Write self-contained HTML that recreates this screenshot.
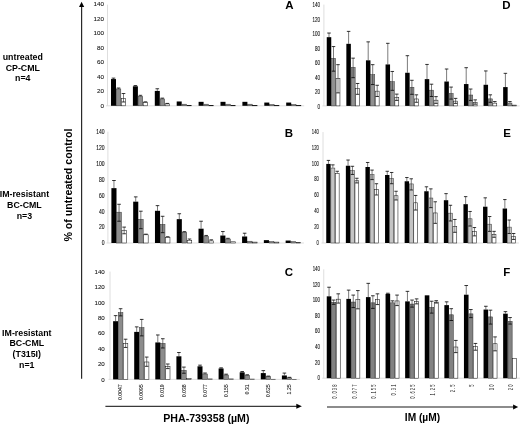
<!DOCTYPE html>
<html lang="en"><head><meta charset="utf-8"><title>Figure</title>
<style>html,body{margin:0;padding:0;background:#fff;}body{width:520px;height:424px;overflow:hidden;}svg{display:block;filter:blur(0.35px);}text{font-family:'Liberation Sans', Arial, Helvetica, sans-serif;}</style>
</head><body>
<svg width="520" height="424" viewBox="0 0 520 424">
<rect width="520" height="424" fill="#fff"/>
<line x1="107.5" y1="4.65" x2="107.5" y2="105.80" stroke="#d6d6d6" stroke-width="0.8"/>
<line x1="106.0" y1="105.80" x2="304.20" y2="105.80" stroke="#d6d6d6" stroke-width="0.8"/>
<text transform="translate(104,107.60) scale(1.03,1)" text-anchor="end" font-size="6.1" fill="#111" stroke="#111" stroke-width="0.08">0</text>
<text transform="translate(104,93.15) scale(1.03,1)" text-anchor="end" font-size="6.1" fill="#111" stroke="#111" stroke-width="0.08">20</text>
<text transform="translate(104,78.70) scale(1.03,1)" text-anchor="end" font-size="6.1" fill="#111" stroke="#111" stroke-width="0.08">40</text>
<text transform="translate(104,64.25) scale(1.03,1)" text-anchor="end" font-size="6.1" fill="#111" stroke="#111" stroke-width="0.08">60</text>
<text transform="translate(104,49.80) scale(1.03,1)" text-anchor="end" font-size="6.1" fill="#111" stroke="#111" stroke-width="0.08">80</text>
<text transform="translate(104,35.35) scale(1.03,1)" text-anchor="end" font-size="6.1" fill="#111" stroke="#111" stroke-width="0.08">100</text>
<text transform="translate(104,20.90) scale(1.03,1)" text-anchor="end" font-size="6.1" fill="#111" stroke="#111" stroke-width="0.08">120</text>
<text transform="translate(104,6.45) scale(1.03,1)" text-anchor="end" font-size="6.1" fill="#111" stroke="#111" stroke-width="0.08">140</text>
<rect x="111.00" y="79.07" width="5.00" height="26.73" fill="#000"/>
<path d="M113.50 78.13V79.07" stroke="#222" stroke-width="0.6" fill="none"/>
<path d="M111.70 78.13H115.30" stroke="#000" stroke-width="0.8" fill="none"/>
<rect x="116.20" y="88.95" width="4.60" height="16.85" fill="#8c8c8c" stroke="#333" stroke-width="0.5"/>
<path d="M118.50 88.03V88.75" stroke="#222" stroke-width="0.6" fill="none"/>
<path d="M116.70 88.03H120.30" stroke="#000" stroke-width="0.8" fill="none"/>
<rect x="121.30" y="98.30" width="4.40" height="7.50" fill="#fff" stroke="#1a1a1a" stroke-width="0.55"/>
<path d="M123.50 93.52V101.97" stroke="#222" stroke-width="0.6" fill="none"/>
<path d="M121.70 93.52H125.30M121.70 101.97H125.30" stroke="#000" stroke-width="0.8" fill="none"/>
<rect x="132.90" y="86.29" width="5.00" height="19.51" fill="#000"/>
<path d="M135.40 85.57V86.29" stroke="#222" stroke-width="0.6" fill="none"/>
<path d="M133.60 85.57H137.20" stroke="#000" stroke-width="0.8" fill="none"/>
<rect x="138.10" y="96.25" width="4.60" height="9.55" fill="#8c8c8c" stroke="#333" stroke-width="0.5"/>
<path d="M140.40 95.32V96.05" stroke="#222" stroke-width="0.6" fill="none"/>
<path d="M138.60 95.32H142.20" stroke="#000" stroke-width="0.8" fill="none"/>
<rect x="143.20" y="102.49" width="4.40" height="3.31" fill="#fff" stroke="#1a1a1a" stroke-width="0.55"/>
<path d="M145.40 101.83V102.19" stroke="#222" stroke-width="0.6" fill="none"/>
<path d="M143.60 101.83H147.20" stroke="#000" stroke-width="0.8" fill="none"/>
<rect x="154.80" y="90.92" width="5.00" height="14.88" fill="#000"/>
<path d="M157.30 88.75V90.92" stroke="#222" stroke-width="0.6" fill="none"/>
<path d="M155.50 88.75H159.10" stroke="#000" stroke-width="0.8" fill="none"/>
<rect x="160.00" y="98.92" width="4.60" height="6.88" fill="#8c8c8c" stroke="#333" stroke-width="0.5"/>
<path d="M162.30 98.14V98.72" stroke="#222" stroke-width="0.6" fill="none"/>
<path d="M160.50 98.14H164.10" stroke="#000" stroke-width="0.8" fill="none"/>
<rect x="165.10" y="103.93" width="4.40" height="1.87" fill="#fff" stroke="#1a1a1a" stroke-width="0.55"/>
<path d="M167.30 103.42V103.63" stroke="#222" stroke-width="0.6" fill="none"/>
<path d="M165.50 103.42H169.10" stroke="#000" stroke-width="0.8" fill="none"/>
<rect x="176.70" y="101.47" width="5.00" height="4.33" fill="#000"/>
<rect x="181.90" y="104.19" width="4.60" height="1.61" fill="#8c8c8c" stroke="#333" stroke-width="0.5"/>
<rect x="187.00" y="105.38" width="4.40" height="0.42" fill="#fff" stroke="#1a1a1a" stroke-width="0.55"/>
<rect x="198.60" y="101.83" width="5.00" height="3.97" fill="#000"/>
<rect x="203.80" y="104.19" width="4.60" height="1.61" fill="#8c8c8c" stroke="#333" stroke-width="0.5"/>
<rect x="208.90" y="105.38" width="4.40" height="0.42" fill="#fff" stroke="#1a1a1a" stroke-width="0.55"/>
<rect x="220.50" y="101.83" width="5.00" height="3.97" fill="#000"/>
<rect x="225.70" y="104.19" width="4.60" height="1.61" fill="#8c8c8c" stroke="#333" stroke-width="0.5"/>
<rect x="230.80" y="105.38" width="4.40" height="0.42" fill="#fff" stroke="#1a1a1a" stroke-width="0.55"/>
<rect x="242.40" y="101.83" width="5.00" height="3.97" fill="#000"/>
<rect x="247.60" y="104.19" width="4.60" height="1.61" fill="#8c8c8c" stroke="#333" stroke-width="0.5"/>
<rect x="252.70" y="105.38" width="4.40" height="0.42" fill="#fff" stroke="#1a1a1a" stroke-width="0.55"/>
<rect x="264.30" y="102.55" width="5.00" height="3.25" fill="#000"/>
<rect x="269.50" y="104.56" width="4.60" height="1.25" fill="#8c8c8c" stroke="#333" stroke-width="0.5"/>
<rect x="274.60" y="105.52" width="4.40" height="0.28" fill="#fff" stroke="#1a1a1a" stroke-width="0.55"/>
<rect x="286.20" y="102.55" width="5.00" height="3.25" fill="#000"/>
<rect x="291.40" y="104.56" width="4.60" height="1.25" fill="#8c8c8c" stroke="#333" stroke-width="0.5"/>
<rect x="296.50" y="105.52" width="4.40" height="0.28" fill="#fff" stroke="#1a1a1a" stroke-width="0.55"/>
<line x1="107.9" y1="131.70" x2="107.9" y2="243.00" stroke="#d6d6d6" stroke-width="0.8"/>
<line x1="106.4" y1="243.00" x2="303.94" y2="243.00" stroke="#d6d6d6" stroke-width="0.8"/>
<text transform="translate(104.5,245.38) scale(0.76,1)" text-anchor="end" font-size="6.6" fill="#111" stroke="#111" stroke-width="0.12">0</text>
<text transform="translate(104.5,229.48) scale(0.76,1)" text-anchor="end" font-size="6.6" fill="#111" stroke="#111" stroke-width="0.12">20</text>
<text transform="translate(104.5,213.58) scale(0.76,1)" text-anchor="end" font-size="6.6" fill="#111" stroke="#111" stroke-width="0.12">40</text>
<text transform="translate(104.5,197.68) scale(0.76,1)" text-anchor="end" font-size="6.6" fill="#111" stroke="#111" stroke-width="0.12">60</text>
<text transform="translate(104.5,181.78) scale(0.76,1)" text-anchor="end" font-size="6.6" fill="#111" stroke="#111" stroke-width="0.12">80</text>
<text transform="translate(104.5,165.88) scale(0.76,1)" text-anchor="end" font-size="6.6" fill="#111" stroke="#111" stroke-width="0.12">100</text>
<text transform="translate(104.5,149.98) scale(0.76,1)" text-anchor="end" font-size="6.6" fill="#111" stroke="#111" stroke-width="0.12">120</text>
<text transform="translate(104.5,134.08) scale(0.76,1)" text-anchor="end" font-size="6.6" fill="#111" stroke="#111" stroke-width="0.12">140</text>
<rect x="111.40" y="188.14" width="5.10" height="54.86" fill="#000"/>
<path d="M113.95 180.51V188.14" stroke="#222" stroke-width="0.6" fill="none"/>
<path d="M112.15 180.51H115.75" stroke="#000" stroke-width="0.8" fill="none"/>
<rect x="116.70" y="212.19" width="4.70" height="30.81" fill="#8c8c8c" stroke="#333" stroke-width="0.5"/>
<path d="M119.05 204.28V221.22" stroke="#222" stroke-width="0.6" fill="none"/>
<path d="M117.25 204.28H120.85M117.25 221.22H120.85" stroke="#000" stroke-width="0.8" fill="none"/>
<rect x="121.90" y="230.26" width="4.50" height="12.74" fill="#fff" stroke="#1a1a1a" stroke-width="0.55"/>
<path d="M124.15 227.10V233.78" stroke="#222" stroke-width="0.6" fill="none"/>
<path d="M122.35 227.10H125.95M122.35 233.78H125.95" stroke="#000" stroke-width="0.8" fill="none"/>
<rect x="133.18" y="201.66" width="5.10" height="41.34" fill="#000"/>
<path d="M135.73 196.89V201.66" stroke="#222" stroke-width="0.6" fill="none"/>
<path d="M133.93 196.89H137.53" stroke="#000" stroke-width="0.8" fill="none"/>
<rect x="138.48" y="219.35" width="4.70" height="23.65" fill="#8c8c8c" stroke="#333" stroke-width="0.5"/>
<path d="M140.83 211.20V228.69" stroke="#222" stroke-width="0.6" fill="none"/>
<path d="M139.03 211.20H142.63M139.03 228.69H142.63" stroke="#000" stroke-width="0.8" fill="none"/>
<rect x="143.68" y="234.79" width="4.50" height="8.21" fill="#fff" stroke="#1a1a1a" stroke-width="0.55"/>
<path d="M145.93 234.18V234.49" stroke="#222" stroke-width="0.6" fill="none"/>
<path d="M144.13 234.18H147.73" stroke="#000" stroke-width="0.8" fill="none"/>
<rect x="154.96" y="210.80" width="5.10" height="32.20" fill="#000"/>
<path d="M157.51 205.63V210.80" stroke="#222" stroke-width="0.6" fill="none"/>
<path d="M155.71 205.63H159.31" stroke="#000" stroke-width="0.8" fill="none"/>
<rect x="160.26" y="224.44" width="4.70" height="18.56" fill="#8c8c8c" stroke="#333" stroke-width="0.5"/>
<path d="M162.61 216.29V232.66" stroke="#222" stroke-width="0.6" fill="none"/>
<path d="M160.81 216.29H164.41M160.81 232.66H164.41" stroke="#000" stroke-width="0.8" fill="none"/>
<rect x="165.46" y="237.34" width="4.50" height="5.66" fill="#fff" stroke="#1a1a1a" stroke-width="0.55"/>
<path d="M167.71 236.72V237.04" stroke="#222" stroke-width="0.6" fill="none"/>
<path d="M165.91 236.72H169.51" stroke="#000" stroke-width="0.8" fill="none"/>
<rect x="176.74" y="219.15" width="5.10" height="23.85" fill="#000"/>
<path d="M179.29 213.74V219.15" stroke="#222" stroke-width="0.6" fill="none"/>
<path d="M177.49 213.74H181.09" stroke="#000" stroke-width="0.8" fill="none"/>
<rect x="182.04" y="232.23" width="4.70" height="10.77" fill="#8c8c8c" stroke="#333" stroke-width="0.5"/>
<path d="M184.39 231.63V232.03" stroke="#222" stroke-width="0.6" fill="none"/>
<path d="M182.59 231.63H186.19" stroke="#000" stroke-width="0.8" fill="none"/>
<rect x="187.24" y="240.28" width="4.50" height="2.72" fill="#fff" stroke="#1a1a1a" stroke-width="0.55"/>
<path d="M189.49 239.03V239.98" stroke="#222" stroke-width="0.6" fill="none"/>
<path d="M187.69 239.03H191.29" stroke="#000" stroke-width="0.8" fill="none"/>
<rect x="198.52" y="228.69" width="5.10" height="14.31" fill="#000"/>
<path d="M201.07 221.22V228.69" stroke="#222" stroke-width="0.6" fill="none"/>
<path d="M199.27 221.22H202.87" stroke="#000" stroke-width="0.8" fill="none"/>
<rect x="203.82" y="236.44" width="4.70" height="6.56" fill="#8c8c8c" stroke="#333" stroke-width="0.5"/>
<path d="M206.17 235.45V236.24" stroke="#222" stroke-width="0.6" fill="none"/>
<path d="M204.37 235.45H207.97" stroke="#000" stroke-width="0.8" fill="none"/>
<rect x="209.02" y="240.92" width="4.50" height="2.09" fill="#fff" stroke="#1a1a1a" stroke-width="0.55"/>
<path d="M211.27 239.82V240.62" stroke="#222" stroke-width="0.6" fill="none"/>
<path d="M209.47 239.82H213.07" stroke="#000" stroke-width="0.8" fill="none"/>
<rect x="220.30" y="235.53" width="5.10" height="7.47" fill="#000"/>
<path d="M222.85 231.55V235.53" stroke="#222" stroke-width="0.6" fill="none"/>
<path d="M221.05 231.55H224.65" stroke="#000" stroke-width="0.8" fill="none"/>
<rect x="225.60" y="238.99" width="4.70" height="4.01" fill="#8c8c8c" stroke="#333" stroke-width="0.5"/>
<path d="M227.95 238.31V238.79" stroke="#222" stroke-width="0.6" fill="none"/>
<path d="M226.15 238.31H229.75" stroke="#000" stroke-width="0.8" fill="none"/>
<rect x="230.80" y="241.79" width="4.50" height="1.21" fill="#fff" stroke="#1a1a1a" stroke-width="0.55"/>
<rect x="242.08" y="236.48" width="5.10" height="6.52" fill="#000"/>
<path d="M244.63 233.22V236.48" stroke="#222" stroke-width="0.6" fill="none"/>
<path d="M242.83 233.22H246.43" stroke="#000" stroke-width="0.8" fill="none"/>
<rect x="247.38" y="241.21" width="4.70" height="1.79" fill="#8c8c8c" stroke="#333" stroke-width="0.5"/>
<rect x="252.58" y="242.11" width="4.50" height="0.89" fill="#fff" stroke="#1a1a1a" stroke-width="0.55"/>
<rect x="263.86" y="240.14" width="5.10" height="2.86" fill="#000"/>
<rect x="269.16" y="241.61" width="4.70" height="1.39" fill="#8c8c8c" stroke="#333" stroke-width="0.5"/>
<rect x="274.36" y="242.11" width="4.50" height="0.89" fill="#fff" stroke="#1a1a1a" stroke-width="0.55"/>
<rect x="285.64" y="240.54" width="5.10" height="2.46" fill="#000"/>
<rect x="290.94" y="241.61" width="4.70" height="1.39" fill="#8c8c8c" stroke="#333" stroke-width="0.5"/>
<rect x="296.14" y="242.51" width="4.50" height="0.50" fill="#fff" stroke="#1a1a1a" stroke-width="0.55"/>
<line x1="110" y1="271.60" x2="110" y2="379.40" stroke="#d6d6d6" stroke-width="0.8"/>
<line x1="108.5" y1="379.40" x2="299.90" y2="379.40" stroke="#d6d6d6" stroke-width="0.8"/>
<text transform="translate(104.8,381.52) scale(1.05,1)" text-anchor="end" font-size="5.9" fill="#111" stroke="#111" stroke-width="0.08">0</text>
<text transform="translate(104.8,366.12) scale(1.05,1)" text-anchor="end" font-size="5.9" fill="#111" stroke="#111" stroke-width="0.08">20</text>
<text transform="translate(104.8,350.72) scale(1.05,1)" text-anchor="end" font-size="5.9" fill="#111" stroke="#111" stroke-width="0.08">40</text>
<text transform="translate(104.8,335.32) scale(1.05,1)" text-anchor="end" font-size="5.9" fill="#111" stroke="#111" stroke-width="0.08">60</text>
<text transform="translate(104.8,319.92) scale(1.05,1)" text-anchor="end" font-size="5.9" fill="#111" stroke="#111" stroke-width="0.08">80</text>
<text transform="translate(104.8,304.52) scale(1.05,1)" text-anchor="end" font-size="5.9" fill="#111" stroke="#111" stroke-width="0.08">100</text>
<text transform="translate(104.8,289.12) scale(1.05,1)" text-anchor="end" font-size="5.9" fill="#111" stroke="#111" stroke-width="0.08">120</text>
<text transform="translate(104.8,273.72) scale(1.05,1)" text-anchor="end" font-size="5.9" fill="#111" stroke="#111" stroke-width="0.08">140</text>
<rect x="113.10" y="321.19" width="5.00" height="58.21" fill="#000"/>
<path d="M115.60 315.64V321.19" stroke="#222" stroke-width="0.6" fill="none"/>
<path d="M113.80 315.64H117.40" stroke="#000" stroke-width="0.8" fill="none"/>
<rect x="118.30" y="312.61" width="4.60" height="66.79" fill="#8c8c8c" stroke="#333" stroke-width="0.5"/>
<path d="M120.60 308.71V315.88" stroke="#222" stroke-width="0.6" fill="none"/>
<path d="M118.80 308.71H122.40M118.80 315.88H122.40" stroke="#000" stroke-width="0.8" fill="none"/>
<rect x="123.40" y="343.51" width="4.40" height="35.89" fill="#fff" stroke="#1a1a1a" stroke-width="0.55"/>
<path d="M125.60 339.21V347.44" stroke="#222" stroke-width="0.6" fill="none"/>
<path d="M123.80 339.21H127.40M123.80 347.44H127.40" stroke="#000" stroke-width="0.8" fill="none"/>
<rect x="134.20" y="331.89" width="5.00" height="47.51" fill="#000"/>
<path d="M136.70 326.89V331.89" stroke="#222" stroke-width="0.6" fill="none"/>
<path d="M134.90 326.89H138.50" stroke="#000" stroke-width="0.8" fill="none"/>
<rect x="139.40" y="327.62" width="4.60" height="51.77" fill="#8c8c8c" stroke="#333" stroke-width="0.5"/>
<path d="M141.70 319.42V335.89" stroke="#222" stroke-width="0.6" fill="none"/>
<path d="M139.90 319.42H143.50M139.90 335.89H143.50" stroke="#000" stroke-width="0.8" fill="none"/>
<rect x="144.50" y="361.99" width="4.40" height="17.41" fill="#fff" stroke="#1a1a1a" stroke-width="0.55"/>
<path d="M146.70 357.07V366.31" stroke="#222" stroke-width="0.6" fill="none"/>
<path d="M144.90 357.07H148.50M144.90 366.31H148.50" stroke="#000" stroke-width="0.8" fill="none"/>
<rect x="155.30" y="342.44" width="5.00" height="36.96" fill="#000"/>
<path d="M157.80 334.97V342.44" stroke="#222" stroke-width="0.6" fill="none"/>
<path d="M156.00 334.97H159.60" stroke="#000" stroke-width="0.8" fill="none"/>
<rect x="160.50" y="343.41" width="4.60" height="35.99" fill="#8c8c8c" stroke="#333" stroke-width="0.5"/>
<path d="M162.80 338.74V347.98" stroke="#222" stroke-width="0.6" fill="none"/>
<path d="M161.00 338.74H164.60M161.00 347.98H164.60" stroke="#000" stroke-width="0.8" fill="none"/>
<rect x="165.60" y="366.61" width="4.40" height="12.79" fill="#fff" stroke="#1a1a1a" stroke-width="0.55"/>
<path d="M167.80 364.00V368.62" stroke="#222" stroke-width="0.6" fill="none"/>
<path d="M166.00 364.00H169.60M166.00 368.62H169.60" stroke="#000" stroke-width="0.8" fill="none"/>
<rect x="176.40" y="356.30" width="5.00" height="23.10" fill="#000"/>
<path d="M178.90 352.53V356.30" stroke="#222" stroke-width="0.6" fill="none"/>
<path d="M177.10 352.53H180.70" stroke="#000" stroke-width="0.8" fill="none"/>
<rect x="181.60" y="370.36" width="4.60" height="9.04" fill="#8c8c8c" stroke="#333" stroke-width="0.5"/>
<path d="M183.90 367.08V373.24" stroke="#222" stroke-width="0.6" fill="none"/>
<path d="M182.10 367.08H185.70M182.10 373.24H185.70" stroke="#000" stroke-width="0.8" fill="none"/>
<rect x="186.70" y="378.55" width="4.40" height="0.85" fill="#fff" stroke="#1a1a1a" stroke-width="0.55"/>
<rect x="197.50" y="366.31" width="5.00" height="13.09" fill="#000"/>
<path d="M200.00 365.15V366.31" stroke="#222" stroke-width="0.6" fill="none"/>
<path d="M198.20 365.15H201.80" stroke="#000" stroke-width="0.8" fill="none"/>
<rect x="202.70" y="373.98" width="4.60" height="5.42" fill="#8c8c8c" stroke="#333" stroke-width="0.5"/>
<path d="M205.00 373.01V373.78" stroke="#222" stroke-width="0.6" fill="none"/>
<path d="M203.20 373.01H206.80" stroke="#000" stroke-width="0.8" fill="none"/>
<rect x="207.80" y="378.93" width="4.40" height="0.47" fill="#fff" stroke="#1a1a1a" stroke-width="0.55"/>
<rect x="218.60" y="368.47" width="5.00" height="10.93" fill="#000"/>
<path d="M221.10 367.85V368.47" stroke="#222" stroke-width="0.6" fill="none"/>
<path d="M219.30 367.85H222.90" stroke="#000" stroke-width="0.8" fill="none"/>
<rect x="223.80" y="374.98" width="4.60" height="4.42" fill="#8c8c8c" stroke="#333" stroke-width="0.5"/>
<path d="M226.10 374.16V374.78" stroke="#222" stroke-width="0.6" fill="none"/>
<path d="M224.30 374.16H227.90" stroke="#000" stroke-width="0.8" fill="none"/>
<rect x="228.90" y="378.93" width="4.40" height="0.47" fill="#fff" stroke="#1a1a1a" stroke-width="0.55"/>
<rect x="239.70" y="372.32" width="5.00" height="7.08" fill="#000"/>
<path d="M242.20 371.55V372.32" stroke="#222" stroke-width="0.6" fill="none"/>
<path d="M240.40 371.55H244.00" stroke="#000" stroke-width="0.8" fill="none"/>
<rect x="244.90" y="375.44" width="4.60" height="3.96" fill="#8c8c8c" stroke="#333" stroke-width="0.5"/>
<path d="M247.20 374.78V375.24" stroke="#222" stroke-width="0.6" fill="none"/>
<path d="M245.40 374.78H249.00" stroke="#000" stroke-width="0.8" fill="none"/>
<rect x="250.00" y="379.08" width="4.40" height="0.32" fill="#fff" stroke="#1a1a1a" stroke-width="0.55"/>
<rect x="260.80" y="373.09" width="5.00" height="6.31" fill="#000"/>
<path d="M263.30 370.62V373.09" stroke="#222" stroke-width="0.6" fill="none"/>
<path d="M261.50 370.62H265.10" stroke="#000" stroke-width="0.8" fill="none"/>
<rect x="266.00" y="376.67" width="4.60" height="2.73" fill="#8c8c8c" stroke="#333" stroke-width="0.5"/>
<path d="M268.30 376.09V376.47" stroke="#222" stroke-width="0.6" fill="none"/>
<path d="M266.50 376.09H270.10" stroke="#000" stroke-width="0.8" fill="none"/>
<rect x="271.10" y="379.24" width="4.40" height="0.16" fill="#fff" stroke="#1a1a1a" stroke-width="0.55"/>
<rect x="281.90" y="375.47" width="5.00" height="3.93" fill="#000"/>
<path d="M284.40 373.09V375.47" stroke="#222" stroke-width="0.6" fill="none"/>
<path d="M282.60 373.09H286.20" stroke="#000" stroke-width="0.8" fill="none"/>
<rect x="287.10" y="377.83" width="4.60" height="1.57" fill="#8c8c8c" stroke="#333" stroke-width="0.5"/>
<path d="M289.40 377.32V377.63" stroke="#222" stroke-width="0.6" fill="none"/>
<path d="M287.60 377.32H291.20" stroke="#000" stroke-width="0.8" fill="none"/>
<rect x="292.20" y="379.31" width="4.40" height="0.10" fill="#fff" stroke="#1a1a1a" stroke-width="0.55"/>
<line x1="323.9" y1="4.61" x2="323.9" y2="105.90" stroke="#d6d6d6" stroke-width="0.8"/>
<line x1="322.4" y1="105.90" x2="519.65" y2="105.90" stroke="#d6d6d6" stroke-width="0.8"/>
<text transform="translate(320.1,108.56) scale(0.61,1)" text-anchor="end" font-size="7.4" fill="#111" stroke="#111" stroke-width="0.12">0</text>
<text transform="translate(320.1,94.09) scale(0.61,1)" text-anchor="end" font-size="7.4" fill="#111" stroke="#111" stroke-width="0.12">20</text>
<text transform="translate(320.1,79.62) scale(0.61,1)" text-anchor="end" font-size="7.4" fill="#111" stroke="#111" stroke-width="0.12">40</text>
<text transform="translate(320.1,65.15) scale(0.61,1)" text-anchor="end" font-size="7.4" fill="#111" stroke="#111" stroke-width="0.12">60</text>
<text transform="translate(320.1,50.68) scale(0.61,1)" text-anchor="end" font-size="7.4" fill="#111" stroke="#111" stroke-width="0.12">80</text>
<text transform="translate(320.1,36.21) scale(0.61,1)" text-anchor="end" font-size="7.4" fill="#111" stroke="#111" stroke-width="0.12">100</text>
<text transform="translate(320.1,21.74) scale(0.61,1)" text-anchor="end" font-size="7.4" fill="#111" stroke="#111" stroke-width="0.12">120</text>
<text transform="translate(320.1,7.27) scale(0.61,1)" text-anchor="end" font-size="7.4" fill="#111" stroke="#111" stroke-width="0.12">140</text>
<rect x="326.75" y="37.17" width="4.50" height="68.73" fill="#000"/>
<path d="M329.00 33.04V37.17" stroke="#222" stroke-width="0.6" fill="none"/>
<path d="M327.25 33.04H330.75" stroke="#000" stroke-width="0.8" fill="none"/>
<rect x="331.45" y="58.35" width="4.10" height="47.55" fill="#919191" stroke="#333" stroke-width="0.5"/>
<path d="M333.50 46.57V71.17" stroke="#222" stroke-width="0.6" fill="none"/>
<path d="M331.75 46.57H335.25M331.75 71.17H335.25" stroke="#000" stroke-width="0.8" fill="none"/>
<rect x="336.05" y="78.71" width="3.90" height="27.19" fill="#fff" stroke="#1a1a1a" stroke-width="0.55"/>
<path d="M338.00 64.66V92.88" stroke="#222" stroke-width="0.6" fill="none"/>
<path d="M336.25 64.66H339.75M336.25 92.88H339.75" stroke="#000" stroke-width="0.8" fill="none"/>
<rect x="346.35" y="43.82" width="4.50" height="62.08" fill="#000"/>
<path d="M348.60 31.38V43.82" stroke="#222" stroke-width="0.6" fill="none"/>
<path d="M346.85 31.38H350.35" stroke="#000" stroke-width="0.8" fill="none"/>
<rect x="351.05" y="67.39" width="4.10" height="38.51" fill="#919191" stroke="#333" stroke-width="0.5"/>
<path d="M353.10 58.15V77.68" stroke="#222" stroke-width="0.6" fill="none"/>
<path d="M351.35 58.15H354.85M351.35 77.68H354.85" stroke="#000" stroke-width="0.8" fill="none"/>
<rect x="355.65" y="88.62" width="3.90" height="17.28" fill="#fff" stroke="#1a1a1a" stroke-width="0.55"/>
<path d="M357.60 83.47V94.32" stroke="#222" stroke-width="0.6" fill="none"/>
<path d="M355.85 83.47H359.35M355.85 94.32H359.35" stroke="#000" stroke-width="0.8" fill="none"/>
<rect x="365.95" y="60.32" width="4.50" height="45.58" fill="#000"/>
<path d="M368.20 41.87V60.32" stroke="#222" stroke-width="0.6" fill="none"/>
<path d="M366.45 41.87H369.95" stroke="#000" stroke-width="0.8" fill="none"/>
<rect x="370.65" y="74.70" width="4.10" height="31.20" fill="#919191" stroke="#333" stroke-width="0.5"/>
<path d="M372.70 64.66V84.56" stroke="#222" stroke-width="0.6" fill="none"/>
<path d="M370.95 64.66H374.45M370.95 84.56H374.45" stroke="#000" stroke-width="0.8" fill="none"/>
<rect x="375.25" y="91.15" width="3.90" height="14.75" fill="#fff" stroke="#1a1a1a" stroke-width="0.55"/>
<path d="M377.20 85.28V96.49" stroke="#222" stroke-width="0.6" fill="none"/>
<path d="M375.45 85.28H378.95M375.45 96.49H378.95" stroke="#000" stroke-width="0.8" fill="none"/>
<rect x="385.55" y="64.44" width="4.50" height="41.46" fill="#000"/>
<path d="M387.80 43.32V64.44" stroke="#222" stroke-width="0.6" fill="none"/>
<path d="M386.05 43.32H389.55" stroke="#000" stroke-width="0.8" fill="none"/>
<rect x="390.25" y="81.72" width="4.10" height="24.18" fill="#919191" stroke="#333" stroke-width="0.5"/>
<path d="M392.30 71.46V90.34" stroke="#222" stroke-width="0.6" fill="none"/>
<path d="M390.55 71.46H394.05M390.55 90.34H394.05" stroke="#000" stroke-width="0.8" fill="none"/>
<rect x="394.85" y="97.66" width="3.90" height="8.24" fill="#fff" stroke="#1a1a1a" stroke-width="0.55"/>
<path d="M396.80 94.11V100.40" stroke="#222" stroke-width="0.6" fill="none"/>
<path d="M395.05 94.11H398.55M395.05 100.40H398.55" stroke="#000" stroke-width="0.8" fill="none"/>
<rect x="405.15" y="72.76" width="4.50" height="33.14" fill="#000"/>
<path d="M407.40 55.69V72.76" stroke="#222" stroke-width="0.6" fill="none"/>
<path d="M405.65 55.69H409.15" stroke="#000" stroke-width="0.8" fill="none"/>
<rect x="409.85" y="87.29" width="4.10" height="18.61" fill="#919191" stroke="#333" stroke-width="0.5"/>
<path d="M411.90 80.29V94.32" stroke="#222" stroke-width="0.6" fill="none"/>
<path d="M410.15 80.29H413.65M410.15 94.32H413.65" stroke="#000" stroke-width="0.8" fill="none"/>
<rect x="414.45" y="98.97" width="3.90" height="6.94" fill="#fff" stroke="#1a1a1a" stroke-width="0.55"/>
<path d="M416.40 94.83V102.28" stroke="#222" stroke-width="0.6" fill="none"/>
<path d="M414.65 94.83H418.15M414.65 102.28H418.15" stroke="#000" stroke-width="0.8" fill="none"/>
<rect x="424.75" y="79.13" width="4.50" height="26.77" fill="#000"/>
<path d="M427.00 64.44V79.13" stroke="#222" stroke-width="0.6" fill="none"/>
<path d="M425.25 64.44H428.75" stroke="#000" stroke-width="0.8" fill="none"/>
<rect x="429.45" y="90.18" width="4.10" height="15.72" fill="#919191" stroke="#333" stroke-width="0.5"/>
<path d="M431.50 84.20V96.49" stroke="#222" stroke-width="0.6" fill="none"/>
<path d="M429.75 84.20H433.25M429.75 96.49H433.25" stroke="#000" stroke-width="0.8" fill="none"/>
<rect x="434.05" y="100.19" width="3.90" height="5.71" fill="#fff" stroke="#1a1a1a" stroke-width="0.55"/>
<path d="M436.00 96.64V103.37" stroke="#222" stroke-width="0.6" fill="none"/>
<path d="M434.25 96.64H437.75M434.25 103.37H437.75" stroke="#000" stroke-width="0.8" fill="none"/>
<rect x="444.35" y="81.52" width="4.50" height="24.38" fill="#000"/>
<path d="M446.60 69.00V81.52" stroke="#222" stroke-width="0.6" fill="none"/>
<path d="M444.85 69.00H448.35" stroke="#000" stroke-width="0.8" fill="none"/>
<rect x="449.05" y="93.51" width="4.10" height="12.39" fill="#919191" stroke="#333" stroke-width="0.5"/>
<path d="M451.10 87.09V99.10" stroke="#222" stroke-width="0.6" fill="none"/>
<path d="M449.35 87.09H452.85M449.35 99.10H452.85" stroke="#000" stroke-width="0.8" fill="none"/>
<rect x="453.65" y="101.14" width="3.90" height="4.76" fill="#fff" stroke="#1a1a1a" stroke-width="0.55"/>
<path d="M455.60 98.38V103.37" stroke="#222" stroke-width="0.6" fill="none"/>
<path d="M453.85 98.38H457.35M453.85 103.37H457.35" stroke="#000" stroke-width="0.8" fill="none"/>
<rect x="463.95" y="84.05" width="4.50" height="21.85" fill="#000"/>
<path d="M466.20 67.70V84.05" stroke="#222" stroke-width="0.6" fill="none"/>
<path d="M464.45 67.70H467.95" stroke="#000" stroke-width="0.8" fill="none"/>
<rect x="468.65" y="95.03" width="4.10" height="10.87" fill="#919191" stroke="#333" stroke-width="0.5"/>
<path d="M470.70 89.04V100.40" stroke="#222" stroke-width="0.6" fill="none"/>
<path d="M468.95 89.04H472.45M468.95 100.40H472.45" stroke="#000" stroke-width="0.8" fill="none"/>
<rect x="473.25" y="102.65" width="3.90" height="3.25" fill="#fff" stroke="#1a1a1a" stroke-width="0.55"/>
<path d="M475.20 99.89V104.16" stroke="#222" stroke-width="0.6" fill="none"/>
<path d="M473.45 99.89H476.95M473.45 104.16H476.95" stroke="#000" stroke-width="0.8" fill="none"/>
<rect x="483.55" y="84.77" width="4.50" height="21.13" fill="#000"/>
<path d="M485.80 70.95V84.77" stroke="#222" stroke-width="0.6" fill="none"/>
<path d="M484.05 70.95H487.55" stroke="#000" stroke-width="0.8" fill="none"/>
<rect x="488.25" y="98.87" width="4.10" height="7.04" fill="#919191" stroke="#333" stroke-width="0.5"/>
<path d="M490.30 94.83V102.28" stroke="#222" stroke-width="0.6" fill="none"/>
<path d="M488.55 94.83H492.05M488.55 102.28H492.05" stroke="#000" stroke-width="0.8" fill="none"/>
<rect x="492.85" y="103.16" width="3.90" height="2.74" fill="#fff" stroke="#1a1a1a" stroke-width="0.55"/>
<path d="M494.80 101.56V102.86" stroke="#222" stroke-width="0.6" fill="none"/>
<path d="M493.05 101.56H496.55" stroke="#000" stroke-width="0.8" fill="none"/>
<rect x="503.15" y="87.09" width="4.50" height="18.81" fill="#000"/>
<path d="M505.40 73.34V87.09" stroke="#222" stroke-width="0.6" fill="none"/>
<path d="M503.65 73.34H507.15" stroke="#000" stroke-width="0.8" fill="none"/>
<rect x="507.85" y="103.06" width="4.10" height="2.84" fill="#919191" stroke="#333" stroke-width="0.5"/>
<path d="M509.90 101.56V102.86" stroke="#222" stroke-width="0.6" fill="none"/>
<path d="M508.15 101.56H511.65" stroke="#000" stroke-width="0.8" fill="none"/>
<rect x="512.45" y="105.11" width="3.90" height="0.79" fill="#fff" stroke="#1a1a1a" stroke-width="0.55"/>
<line x1="323" y1="132.05" x2="323" y2="243.00" stroke="#d6d6d6" stroke-width="0.8"/>
<line x1="321.5" y1="243.00" x2="518.85" y2="243.00" stroke="#d6d6d6" stroke-width="0.8"/>
<text transform="translate(318.8,244.87) scale(0.54,1)" text-anchor="end" font-size="7.7" fill="#111" stroke="#111" stroke-width="0.12">0</text>
<text transform="translate(318.8,229.02) scale(0.54,1)" text-anchor="end" font-size="7.7" fill="#111" stroke="#111" stroke-width="0.12">20</text>
<text transform="translate(318.8,213.17) scale(0.54,1)" text-anchor="end" font-size="7.7" fill="#111" stroke="#111" stroke-width="0.12">40</text>
<text transform="translate(318.8,197.32) scale(0.54,1)" text-anchor="end" font-size="7.7" fill="#111" stroke="#111" stroke-width="0.12">60</text>
<text transform="translate(318.8,181.47) scale(0.54,1)" text-anchor="end" font-size="7.7" fill="#111" stroke="#111" stroke-width="0.12">80</text>
<text transform="translate(318.8,165.62) scale(0.54,1)" text-anchor="end" font-size="7.7" fill="#111" stroke="#111" stroke-width="0.12">100</text>
<text transform="translate(318.8,149.77) scale(0.54,1)" text-anchor="end" font-size="7.7" fill="#111" stroke="#111" stroke-width="0.12">120</text>
<text transform="translate(318.8,133.92) scale(0.54,1)" text-anchor="end" font-size="7.7" fill="#111" stroke="#111" stroke-width="0.12">140</text>
<rect x="326.25" y="163.91" width="4.40" height="79.09" fill="#000"/>
<path d="M328.45 160.42V163.91" stroke="#222" stroke-width="0.6" fill="none"/>
<path d="M326.75 160.42H330.15" stroke="#000" stroke-width="0.8" fill="none"/>
<rect x="330.85" y="168.07" width="4.00" height="74.93" fill="#c4c4c4" stroke="#333" stroke-width="0.5"/>
<path d="M332.85 164.86V167.87" stroke="#222" stroke-width="0.6" fill="none"/>
<path d="M331.15 164.86H334.55" stroke="#000" stroke-width="0.8" fill="none"/>
<rect x="335.35" y="173.56" width="3.80" height="69.44" fill="#fff" stroke="#1a1a1a" stroke-width="0.55"/>
<path d="M337.25 171.28V173.26" stroke="#222" stroke-width="0.6" fill="none"/>
<path d="M335.55 171.28H338.95" stroke="#000" stroke-width="0.8" fill="none"/>
<rect x="345.85" y="165.73" width="4.40" height="77.27" fill="#000"/>
<path d="M348.05 160.03V165.73" stroke="#222" stroke-width="0.6" fill="none"/>
<path d="M346.35 160.03H349.75" stroke="#000" stroke-width="0.8" fill="none"/>
<rect x="350.45" y="170.69" width="4.00" height="72.31" fill="#c4c4c4" stroke="#333" stroke-width="0.5"/>
<path d="M352.45 166.29V174.45" stroke="#222" stroke-width="0.6" fill="none"/>
<path d="M350.75 166.29H354.15M350.75 174.45H354.15" stroke="#000" stroke-width="0.8" fill="none"/>
<rect x="354.95" y="180.77" width="3.80" height="62.23" fill="#fff" stroke="#1a1a1a" stroke-width="0.55"/>
<path d="M356.85 178.25V182.93" stroke="#222" stroke-width="0.6" fill="none"/>
<path d="M355.15 178.25H358.55M355.15 182.93H358.55" stroke="#000" stroke-width="0.8" fill="none"/>
<rect x="365.45" y="167.00" width="4.40" height="76.00" fill="#000"/>
<path d="M367.65 162.48V167.00" stroke="#222" stroke-width="0.6" fill="none"/>
<path d="M365.95 162.48H369.35" stroke="#000" stroke-width="0.8" fill="none"/>
<rect x="370.05" y="174.73" width="4.00" height="68.27" fill="#c4c4c4" stroke="#333" stroke-width="0.5"/>
<path d="M372.05 170.09V179.60" stroke="#222" stroke-width="0.6" fill="none"/>
<path d="M370.35 170.09H373.75M370.35 179.60H373.75" stroke="#000" stroke-width="0.8" fill="none"/>
<rect x="374.55" y="189.57" width="3.80" height="53.43" fill="#fff" stroke="#1a1a1a" stroke-width="0.55"/>
<path d="M376.45 183.72V194.97" stroke="#222" stroke-width="0.6" fill="none"/>
<path d="M374.75 183.72H378.15M374.75 194.97H378.15" stroke="#000" stroke-width="0.8" fill="none"/>
<rect x="385.05" y="175.00" width="4.40" height="68.00" fill="#000"/>
<path d="M387.25 171.28V175.00" stroke="#222" stroke-width="0.6" fill="none"/>
<path d="M385.55 171.28H388.95" stroke="#000" stroke-width="0.8" fill="none"/>
<rect x="389.65" y="178.45" width="4.00" height="64.55" fill="#c4c4c4" stroke="#333" stroke-width="0.5"/>
<path d="M391.65 172.47V183.72" stroke="#222" stroke-width="0.6" fill="none"/>
<path d="M389.95 172.47H393.35M389.95 183.72H393.35" stroke="#000" stroke-width="0.8" fill="none"/>
<rect x="394.15" y="195.75" width="3.80" height="47.25" fill="#fff" stroke="#1a1a1a" stroke-width="0.55"/>
<path d="M396.05 191.25V199.97" stroke="#222" stroke-width="0.6" fill="none"/>
<path d="M394.35 191.25H397.75M394.35 199.97H397.75" stroke="#000" stroke-width="0.8" fill="none"/>
<rect x="404.65" y="181.26" width="4.40" height="61.74" fill="#000"/>
<path d="M406.85 177.54V181.26" stroke="#222" stroke-width="0.6" fill="none"/>
<path d="M405.15 177.54H408.55" stroke="#000" stroke-width="0.8" fill="none"/>
<rect x="409.25" y="183.92" width="4.00" height="59.08" fill="#c4c4c4" stroke="#333" stroke-width="0.5"/>
<path d="M411.25 178.81V189.98" stroke="#222" stroke-width="0.6" fill="none"/>
<path d="M409.55 178.81H412.95M409.55 189.98H412.95" stroke="#000" stroke-width="0.8" fill="none"/>
<rect x="413.75" y="202.80" width="3.80" height="40.20" fill="#fff" stroke="#1a1a1a" stroke-width="0.55"/>
<path d="M415.65 195.45V210.03" stroke="#222" stroke-width="0.6" fill="none"/>
<path d="M413.95 195.45H417.35M413.95 210.03H417.35" stroke="#000" stroke-width="0.8" fill="none"/>
<rect x="424.25" y="191.25" width="4.40" height="51.75" fill="#000"/>
<path d="M426.45 186.81V191.25" stroke="#222" stroke-width="0.6" fill="none"/>
<path d="M424.75 186.81H428.15" stroke="#000" stroke-width="0.8" fill="none"/>
<rect x="428.85" y="198.03" width="4.00" height="44.97" fill="#c4c4c4" stroke="#333" stroke-width="0.5"/>
<path d="M430.85 188.87V207.65" stroke="#222" stroke-width="0.6" fill="none"/>
<path d="M429.15 188.87H432.55M429.15 207.65H432.55" stroke="#000" stroke-width="0.8" fill="none"/>
<rect x="433.35" y="212.95" width="3.80" height="30.05" fill="#fff" stroke="#1a1a1a" stroke-width="0.55"/>
<path d="M435.25 201.79V223.35" stroke="#222" stroke-width="0.6" fill="none"/>
<path d="M433.55 201.79H436.95M433.55 223.35H436.95" stroke="#000" stroke-width="0.8" fill="none"/>
<rect x="443.85" y="200.20" width="4.40" height="42.80" fill="#000"/>
<path d="M446.05 193.63V200.20" stroke="#222" stroke-width="0.6" fill="none"/>
<path d="M444.35 193.63H447.75" stroke="#000" stroke-width="0.8" fill="none"/>
<rect x="448.45" y="213.16" width="4.00" height="29.84" fill="#c4c4c4" stroke="#333" stroke-width="0.5"/>
<path d="M450.45 205.28V220.97" stroke="#222" stroke-width="0.6" fill="none"/>
<path d="M448.75 205.28H452.15M448.75 220.97H452.15" stroke="#000" stroke-width="0.8" fill="none"/>
<rect x="452.95" y="226.34" width="3.80" height="16.66" fill="#fff" stroke="#1a1a1a" stroke-width="0.55"/>
<path d="M454.85 219.46V232.30" stroke="#222" stroke-width="0.6" fill="none"/>
<path d="M453.15 219.46H456.55M453.15 232.30H456.55" stroke="#000" stroke-width="0.8" fill="none"/>
<rect x="463.45" y="204.17" width="4.40" height="38.83" fill="#000"/>
<path d="M465.65 196.64V204.17" stroke="#222" stroke-width="0.6" fill="none"/>
<path d="M463.95 196.64H467.35" stroke="#000" stroke-width="0.8" fill="none"/>
<rect x="468.05" y="218.79" width="4.00" height="24.21" fill="#c4c4c4" stroke="#333" stroke-width="0.5"/>
<path d="M470.05 211.46V226.04" stroke="#222" stroke-width="0.6" fill="none"/>
<path d="M468.35 211.46H471.75M468.35 226.04H471.75" stroke="#000" stroke-width="0.8" fill="none"/>
<rect x="472.55" y="231.65" width="3.80" height="11.35" fill="#fff" stroke="#1a1a1a" stroke-width="0.55"/>
<path d="M474.45 227.55V235.87" stroke="#222" stroke-width="0.6" fill="none"/>
<path d="M472.75 227.55H476.15M472.75 235.87H476.15" stroke="#000" stroke-width="0.8" fill="none"/>
<rect x="483.05" y="206.70" width="4.40" height="36.30" fill="#000"/>
<path d="M485.25 197.83V206.70" stroke="#222" stroke-width="0.6" fill="none"/>
<path d="M483.55 197.83H486.95" stroke="#000" stroke-width="0.8" fill="none"/>
<rect x="487.65" y="224.18" width="4.00" height="18.82" fill="#c4c4c4" stroke="#333" stroke-width="0.5"/>
<path d="M489.65 216.53V231.35" stroke="#222" stroke-width="0.6" fill="none"/>
<path d="M487.95 216.53H491.35M487.95 231.35H491.35" stroke="#000" stroke-width="0.8" fill="none"/>
<rect x="492.15" y="234.66" width="3.80" height="8.34" fill="#fff" stroke="#1a1a1a" stroke-width="0.55"/>
<path d="M494.05 231.35V237.29" stroke="#222" stroke-width="0.6" fill="none"/>
<path d="M492.35 231.35H495.75M492.35 237.29H495.75" stroke="#000" stroke-width="0.8" fill="none"/>
<rect x="502.65" y="208.53" width="4.40" height="34.47" fill="#000"/>
<path d="M504.85 199.57V208.53" stroke="#222" stroke-width="0.6" fill="none"/>
<path d="M503.15 199.57H506.55" stroke="#000" stroke-width="0.8" fill="none"/>
<rect x="507.25" y="227.11" width="4.00" height="15.89" fill="#c4c4c4" stroke="#333" stroke-width="0.5"/>
<path d="M509.25 220.02V233.49" stroke="#222" stroke-width="0.6" fill="none"/>
<path d="M507.55 220.02H510.95M507.55 233.49H510.95" stroke="#000" stroke-width="0.8" fill="none"/>
<rect x="511.75" y="236.72" width="3.80" height="6.28" fill="#fff" stroke="#1a1a1a" stroke-width="0.55"/>
<path d="M513.65 233.49V239.43" stroke="#222" stroke-width="0.6" fill="none"/>
<path d="M511.95 233.49H515.35M511.95 239.43H515.35" stroke="#000" stroke-width="0.8" fill="none"/>
<line x1="323.75" y1="269.35" x2="323.75" y2="378.20" stroke="#d6d6d6" stroke-width="0.8"/>
<line x1="322.25" y1="378.20" x2="519.95" y2="378.20" stroke="#d6d6d6" stroke-width="0.8"/>
<text transform="translate(319.9,380.08) scale(0.66,1)" text-anchor="end" font-size="6.6" fill="#111" stroke="#111" stroke-width="0.12">0</text>
<text transform="translate(319.9,364.53) scale(0.66,1)" text-anchor="end" font-size="6.6" fill="#111" stroke="#111" stroke-width="0.12">20</text>
<text transform="translate(319.9,348.98) scale(0.66,1)" text-anchor="end" font-size="6.6" fill="#111" stroke="#111" stroke-width="0.12">40</text>
<text transform="translate(319.9,333.43) scale(0.66,1)" text-anchor="end" font-size="6.6" fill="#111" stroke="#111" stroke-width="0.12">60</text>
<text transform="translate(319.9,317.88) scale(0.66,1)" text-anchor="end" font-size="6.6" fill="#111" stroke="#111" stroke-width="0.12">80</text>
<text transform="translate(319.9,302.33) scale(0.66,1)" text-anchor="end" font-size="6.6" fill="#111" stroke="#111" stroke-width="0.12">100</text>
<text transform="translate(319.9,286.78) scale(0.66,1)" text-anchor="end" font-size="6.6" fill="#111" stroke="#111" stroke-width="0.12">120</text>
<text transform="translate(319.9,271.23) scale(0.66,1)" text-anchor="end" font-size="6.6" fill="#111" stroke="#111" stroke-width="0.12">140</text>
<rect x="326.75" y="296.33" width="4.60" height="81.87" fill="#000"/>
<path d="M329.05 287.23V296.33" stroke="#222" stroke-width="0.6" fill="none"/>
<path d="M327.25 287.23H330.85" stroke="#000" stroke-width="0.8" fill="none"/>
<rect x="331.55" y="302.28" width="4.20" height="75.92" fill="#828282" stroke="#333" stroke-width="0.5"/>
<path d="M333.65 300.06V304.34" stroke="#222" stroke-width="0.6" fill="none"/>
<path d="M331.85 300.06H335.45M331.85 304.34H335.45" stroke="#000" stroke-width="0.8" fill="none"/>
<rect x="336.25" y="299.19" width="4.00" height="79.00" fill="#fff" stroke="#1a1a1a" stroke-width="0.55"/>
<path d="M338.25 293.84V303.09" stroke="#222" stroke-width="0.6" fill="none"/>
<path d="M336.45 293.84H340.05M336.45 303.09H340.05" stroke="#000" stroke-width="0.8" fill="none"/>
<rect x="346.35" y="298.89" width="4.60" height="79.30" fill="#000"/>
<path d="M348.65 290.11V298.89" stroke="#222" stroke-width="0.6" fill="none"/>
<path d="M346.85 290.11H350.45" stroke="#000" stroke-width="0.8" fill="none"/>
<rect x="351.15" y="302.05" width="4.20" height="76.15" fill="#828282" stroke="#333" stroke-width="0.5"/>
<path d="M353.25 295.09V307.60" stroke="#222" stroke-width="0.6" fill="none"/>
<path d="M351.45 295.09H355.05M351.45 307.60H355.05" stroke="#000" stroke-width="0.8" fill="none"/>
<rect x="355.85" y="299.66" width="4.00" height="78.54" fill="#fff" stroke="#1a1a1a" stroke-width="0.55"/>
<path d="M357.85 290.58V308.85" stroke="#222" stroke-width="0.6" fill="none"/>
<path d="M356.05 290.58H359.65M356.05 308.85H359.65" stroke="#000" stroke-width="0.8" fill="none"/>
<rect x="365.95" y="297.11" width="4.60" height="81.09" fill="#000"/>
<path d="M368.25 283.35V297.11" stroke="#222" stroke-width="0.6" fill="none"/>
<path d="M366.45 283.35H370.05" stroke="#000" stroke-width="0.8" fill="none"/>
<rect x="370.75" y="302.83" width="4.20" height="75.37" fill="#828282" stroke="#333" stroke-width="0.5"/>
<path d="M372.85 295.78V308.38" stroke="#222" stroke-width="0.6" fill="none"/>
<path d="M371.05 295.78H374.65M371.05 308.38H374.65" stroke="#000" stroke-width="0.8" fill="none"/>
<rect x="375.45" y="299.66" width="4.00" height="78.54" fill="#fff" stroke="#1a1a1a" stroke-width="0.55"/>
<path d="M377.45 293.84V304.57" stroke="#222" stroke-width="0.6" fill="none"/>
<path d="M375.65 293.84H379.25M375.65 304.57H379.25" stroke="#000" stroke-width="0.8" fill="none"/>
<rect x="385.55" y="293.84" width="4.60" height="84.36" fill="#000"/>
<path d="M387.85 293.22V293.84" stroke="#222" stroke-width="0.6" fill="none"/>
<path d="M386.05 293.22H389.65" stroke="#000" stroke-width="0.8" fill="none"/>
<rect x="390.35" y="302.83" width="4.20" height="75.37" fill="#828282" stroke="#333" stroke-width="0.5"/>
<path d="M392.45 300.84V302.63" stroke="#222" stroke-width="0.6" fill="none"/>
<path d="M390.65 300.84H394.25" stroke="#000" stroke-width="0.8" fill="none"/>
<rect x="395.05" y="300.91" width="4.00" height="77.29" fill="#fff" stroke="#1a1a1a" stroke-width="0.55"/>
<path d="M397.05 295.09V305.58" stroke="#222" stroke-width="0.6" fill="none"/>
<path d="M395.25 295.09H398.85M395.25 305.58H398.85" stroke="#000" stroke-width="0.8" fill="none"/>
<rect x="405.15" y="301.38" width="4.60" height="76.82" fill="#000"/>
<path d="M407.45 291.35V301.38" stroke="#222" stroke-width="0.6" fill="none"/>
<path d="M405.65 291.35H409.25" stroke="#000" stroke-width="0.8" fill="none"/>
<rect x="409.95" y="304.07" width="4.20" height="74.13" fill="#828282" stroke="#333" stroke-width="0.5"/>
<path d="M412.05 300.06V307.14" stroke="#222" stroke-width="0.6" fill="none"/>
<path d="M410.25 300.06H413.85M410.25 307.14H413.85" stroke="#000" stroke-width="0.8" fill="none"/>
<rect x="414.65" y="301.68" width="4.00" height="76.52" fill="#fff" stroke="#1a1a1a" stroke-width="0.55"/>
<path d="M416.65 298.89V303.87" stroke="#222" stroke-width="0.6" fill="none"/>
<path d="M414.85 298.89H418.45M414.85 303.87H418.45" stroke="#000" stroke-width="0.8" fill="none"/>
<rect x="424.75" y="295.32" width="4.60" height="82.88" fill="#000"/>
<rect x="429.55" y="307.41" width="4.20" height="70.79" fill="#828282" stroke="#333" stroke-width="0.5"/>
<path d="M431.65 301.23V313.12" stroke="#222" stroke-width="0.6" fill="none"/>
<path d="M429.85 301.23H433.45M429.85 313.12H433.45" stroke="#000" stroke-width="0.8" fill="none"/>
<rect x="434.25" y="302.15" width="4.00" height="76.05" fill="#fff" stroke="#1a1a1a" stroke-width="0.55"/>
<path d="M436.25 300.68V303.02" stroke="#222" stroke-width="0.6" fill="none"/>
<path d="M434.45 300.68H438.05M434.45 303.02H438.05" stroke="#000" stroke-width="0.8" fill="none"/>
<rect x="444.35" y="305.12" width="4.60" height="73.08" fill="#000"/>
<path d="M446.65 301.85V305.12" stroke="#222" stroke-width="0.6" fill="none"/>
<path d="M444.85 301.85H448.45" stroke="#000" stroke-width="0.8" fill="none"/>
<rect x="449.15" y="314.80" width="4.20" height="63.40" fill="#828282" stroke="#333" stroke-width="0.5"/>
<path d="M451.25 308.69V320.51" stroke="#222" stroke-width="0.6" fill="none"/>
<path d="M449.45 308.69H453.05M449.45 320.51H453.05" stroke="#000" stroke-width="0.8" fill="none"/>
<rect x="453.85" y="347.01" width="4.00" height="31.19" fill="#fff" stroke="#1a1a1a" stroke-width="0.55"/>
<path d="M455.85 340.41V352.62" stroke="#222" stroke-width="0.6" fill="none"/>
<path d="M454.05 340.41H457.65M454.05 352.62H457.65" stroke="#000" stroke-width="0.8" fill="none"/>
<rect x="463.95" y="294.70" width="4.60" height="83.50" fill="#000"/>
<path d="M466.25 285.52V294.70" stroke="#222" stroke-width="0.6" fill="none"/>
<path d="M464.45 285.52H468.05" stroke="#000" stroke-width="0.8" fill="none"/>
<rect x="468.75" y="313.87" width="4.20" height="64.33" fill="#828282" stroke="#333" stroke-width="0.5"/>
<path d="M470.85 309.55V317.63" stroke="#222" stroke-width="0.6" fill="none"/>
<path d="M469.05 309.55H472.65M469.05 317.63H472.65" stroke="#000" stroke-width="0.8" fill="none"/>
<rect x="473.45" y="346.70" width="4.00" height="31.50" fill="#fff" stroke="#1a1a1a" stroke-width="0.55"/>
<path d="M475.45 343.45V350.21" stroke="#222" stroke-width="0.6" fill="none"/>
<path d="M473.65 343.45H477.25M473.65 350.21H477.25" stroke="#000" stroke-width="0.8" fill="none"/>
<rect x="483.55" y="309.55" width="4.60" height="68.65" fill="#000"/>
<path d="M485.85 306.28V309.55" stroke="#222" stroke-width="0.6" fill="none"/>
<path d="M484.05 306.28H487.65" stroke="#000" stroke-width="0.8" fill="none"/>
<rect x="488.35" y="316.90" width="4.20" height="61.30" fill="#828282" stroke="#333" stroke-width="0.5"/>
<path d="M490.45 310.17V324.09" stroke="#222" stroke-width="0.6" fill="none"/>
<path d="M488.65 310.17H492.25M488.65 324.09H492.25" stroke="#000" stroke-width="0.8" fill="none"/>
<rect x="493.05" y="343.75" width="4.00" height="34.45" fill="#fff" stroke="#1a1a1a" stroke-width="0.55"/>
<path d="M495.05 336.91V350.83" stroke="#222" stroke-width="0.6" fill="none"/>
<path d="M493.25 336.91H496.85M493.25 350.83H496.85" stroke="#000" stroke-width="0.8" fill="none"/>
<rect x="503.15" y="313.67" width="4.60" height="64.53" fill="#000"/>
<path d="M505.45 311.65V313.67" stroke="#222" stroke-width="0.6" fill="none"/>
<path d="M503.65 311.65H507.25" stroke="#000" stroke-width="0.8" fill="none"/>
<rect x="507.95" y="321.33" width="4.20" height="56.87" fill="#828282" stroke="#333" stroke-width="0.5"/>
<path d="M510.05 317.56V324.09" stroke="#222" stroke-width="0.6" fill="none"/>
<path d="M508.25 317.56H511.85M508.25 324.09H511.85" stroke="#000" stroke-width="0.8" fill="none"/>
<rect x="512.65" y="358.52" width="4.00" height="19.68" fill="#fff" stroke="#1a1a1a" stroke-width="0.55"/>
<text transform="translate(289.4,8.9) scale(1.15,1)" font-size="10" font-weight="bold" text-anchor="middle" fill="#000">A</text>
<text transform="translate(289,137.3) scale(1.15,1)" font-size="10" font-weight="bold" text-anchor="middle" fill="#000">B</text>
<text transform="translate(289,275.5) scale(1.15,1)" font-size="10" font-weight="bold" text-anchor="middle" fill="#000">C</text>
<text transform="translate(506.3,8.9) scale(1.15,1)" font-size="10" font-weight="bold" text-anchor="middle" fill="#000">D</text>
<text transform="translate(507,137.2) scale(1.15,1)" font-size="10" font-weight="bold" text-anchor="middle" fill="#000">E</text>
<text transform="translate(506.7,275.8) scale(1.15,1)" font-size="10" font-weight="bold" text-anchor="middle" fill="#000">F</text>
<line x1="81.6" y1="6" x2="81.6" y2="378.8" stroke="#2a2a2a" stroke-width="1.2"/>
<path d="M81.6 1.7L79.0 7.0H84.2Z" fill="#000"/>
<text transform="translate(72.3,241.6) rotate(-90) scale(1,1.08)" font-size="10.65" font-weight="bold" fill="#000">% of untreated control</text>
<text x="22.8" y="60.20" font-size="8.8" font-weight="bold" text-anchor="middle" fill="#000">untreated</text>
<text x="22.8" y="70.80" font-size="8.8" font-weight="bold" text-anchor="middle" fill="#000">CP-CML</text>
<text x="22.8" y="81.40" font-size="8.8" font-weight="bold" text-anchor="middle" fill="#000">n=4</text>
<text x="24.4" y="197.20" font-size="8.8" font-weight="bold" text-anchor="middle" fill="#000">IM-resistant</text>
<text x="24.4" y="208.00" font-size="8.8" font-weight="bold" text-anchor="middle" fill="#000">BC-CML</text>
<text x="24.4" y="218.80" font-size="8.8" font-weight="bold" text-anchor="middle" fill="#000">n=3</text>
<text x="26.8" y="335.80" font-size="8.8" font-weight="bold" text-anchor="middle" fill="#000">IM-resistant</text>
<text x="26.8" y="346.40" font-size="8.8" font-weight="bold" text-anchor="middle" fill="#000">BC-CML</text>
<text x="26.8" y="357.00" font-size="8.8" font-weight="bold" text-anchor="middle" fill="#000">(T315I)</text>
<text x="26.8" y="367.60" font-size="8.8" font-weight="bold" text-anchor="middle" fill="#000">n=1</text>
<text transform="translate(122.22,384.4) rotate(-90) scale(0.87,1)" text-anchor="end" font-size="5.9" letter-spacing="0" fill="#111" stroke="#111" stroke-width="0.08">0.0047</text>
<text transform="translate(143.32,384.4) rotate(-90) scale(0.87,1)" text-anchor="end" font-size="5.9" letter-spacing="0" fill="#111" stroke="#111" stroke-width="0.08">0.0095</text>
<text transform="translate(164.42,384.4) rotate(-90) scale(0.87,1)" text-anchor="end" font-size="5.9" letter-spacing="0" fill="#111" stroke="#111" stroke-width="0.08">0.019</text>
<text transform="translate(185.52,384.4) rotate(-90) scale(0.87,1)" text-anchor="end" font-size="5.9" letter-spacing="0" fill="#111" stroke="#111" stroke-width="0.08">0.038</text>
<text transform="translate(206.62,384.4) rotate(-90) scale(0.87,1)" text-anchor="end" font-size="5.9" letter-spacing="0" fill="#111" stroke="#111" stroke-width="0.08">0.077</text>
<text transform="translate(227.72,384.4) rotate(-90) scale(0.87,1)" text-anchor="end" font-size="5.9" letter-spacing="0" fill="#111" stroke="#111" stroke-width="0.08">0.155</text>
<text transform="translate(248.82,384.4) rotate(-90) scale(0.87,1)" text-anchor="end" font-size="5.9" letter-spacing="0" fill="#111" stroke="#111" stroke-width="0.08">0.31</text>
<text transform="translate(269.92,384.4) rotate(-90) scale(0.87,1)" text-anchor="end" font-size="5.9" letter-spacing="0" fill="#111" stroke="#111" stroke-width="0.08">0.625</text>
<text transform="translate(291.02,384.4) rotate(-90) scale(0.87,1)" text-anchor="end" font-size="5.9" letter-spacing="0" fill="#111" stroke="#111" stroke-width="0.08">1.25</text>
<text transform="translate(336.93,383.6) rotate(-90) scale(0.62,1)" text-anchor="end" font-size="6.6" letter-spacing="1.6" fill="#333" stroke="#333" stroke-width="0.05">0.038</text>
<text transform="translate(356.53,383.6) rotate(-90) scale(0.62,1)" text-anchor="end" font-size="6.6" letter-spacing="1.6" fill="#333" stroke="#333" stroke-width="0.05">0.077</text>
<text transform="translate(376.13,383.6) rotate(-90) scale(0.62,1)" text-anchor="end" font-size="6.6" letter-spacing="1.6" fill="#333" stroke="#333" stroke-width="0.05">0.155</text>
<text transform="translate(395.73,383.6) rotate(-90) scale(0.62,1)" text-anchor="end" font-size="6.6" letter-spacing="1.6" fill="#333" stroke="#333" stroke-width="0.05">0.31</text>
<text transform="translate(415.33,383.6) rotate(-90) scale(0.62,1)" text-anchor="end" font-size="6.6" letter-spacing="1.6" fill="#333" stroke="#333" stroke-width="0.05">0.625</text>
<text transform="translate(434.93,383.6) rotate(-90) scale(0.62,1)" text-anchor="end" font-size="6.6" letter-spacing="1.6" fill="#333" stroke="#333" stroke-width="0.05">1.25</text>
<text transform="translate(454.53,383.6) rotate(-90) scale(0.62,1)" text-anchor="end" font-size="6.6" letter-spacing="1.6" fill="#333" stroke="#333" stroke-width="0.05">2.5</text>
<text transform="translate(474.13,383.6) rotate(-90) scale(0.62,1)" text-anchor="end" font-size="6.6" letter-spacing="1.6" fill="#333" stroke="#333" stroke-width="0.05">5</text>
<text transform="translate(493.73,383.6) rotate(-90) scale(0.62,1)" text-anchor="end" font-size="6.6" letter-spacing="1.6" fill="#333" stroke="#333" stroke-width="0.05">10</text>
<text transform="translate(513.33,383.6) rotate(-90) scale(0.62,1)" text-anchor="end" font-size="6.6" letter-spacing="1.6" fill="#333" stroke="#333" stroke-width="0.05">20</text>
<line x1="105.4" y1="406.3" x2="298" y2="406.3" stroke="#3a3a3a" stroke-width="1.25"/>
<path d="M301.9 406.3L296.3 403.8V408.8Z" fill="#000"/>
<line x1="327" y1="407" x2="514" y2="407" stroke="#666" stroke-width="1.6"/>
<path d="M518.2 407L513.1 404.5V409.5Z" fill="#000"/>
<text x="163.3" y="421.6" font-size="10.6" font-weight="bold" fill="#000">PHA-739358 (µM)</text>
<text x="404.8" y="421.2" font-size="10.2" font-weight="bold" fill="#000">IM (µM)</text>
</svg></body></html>
